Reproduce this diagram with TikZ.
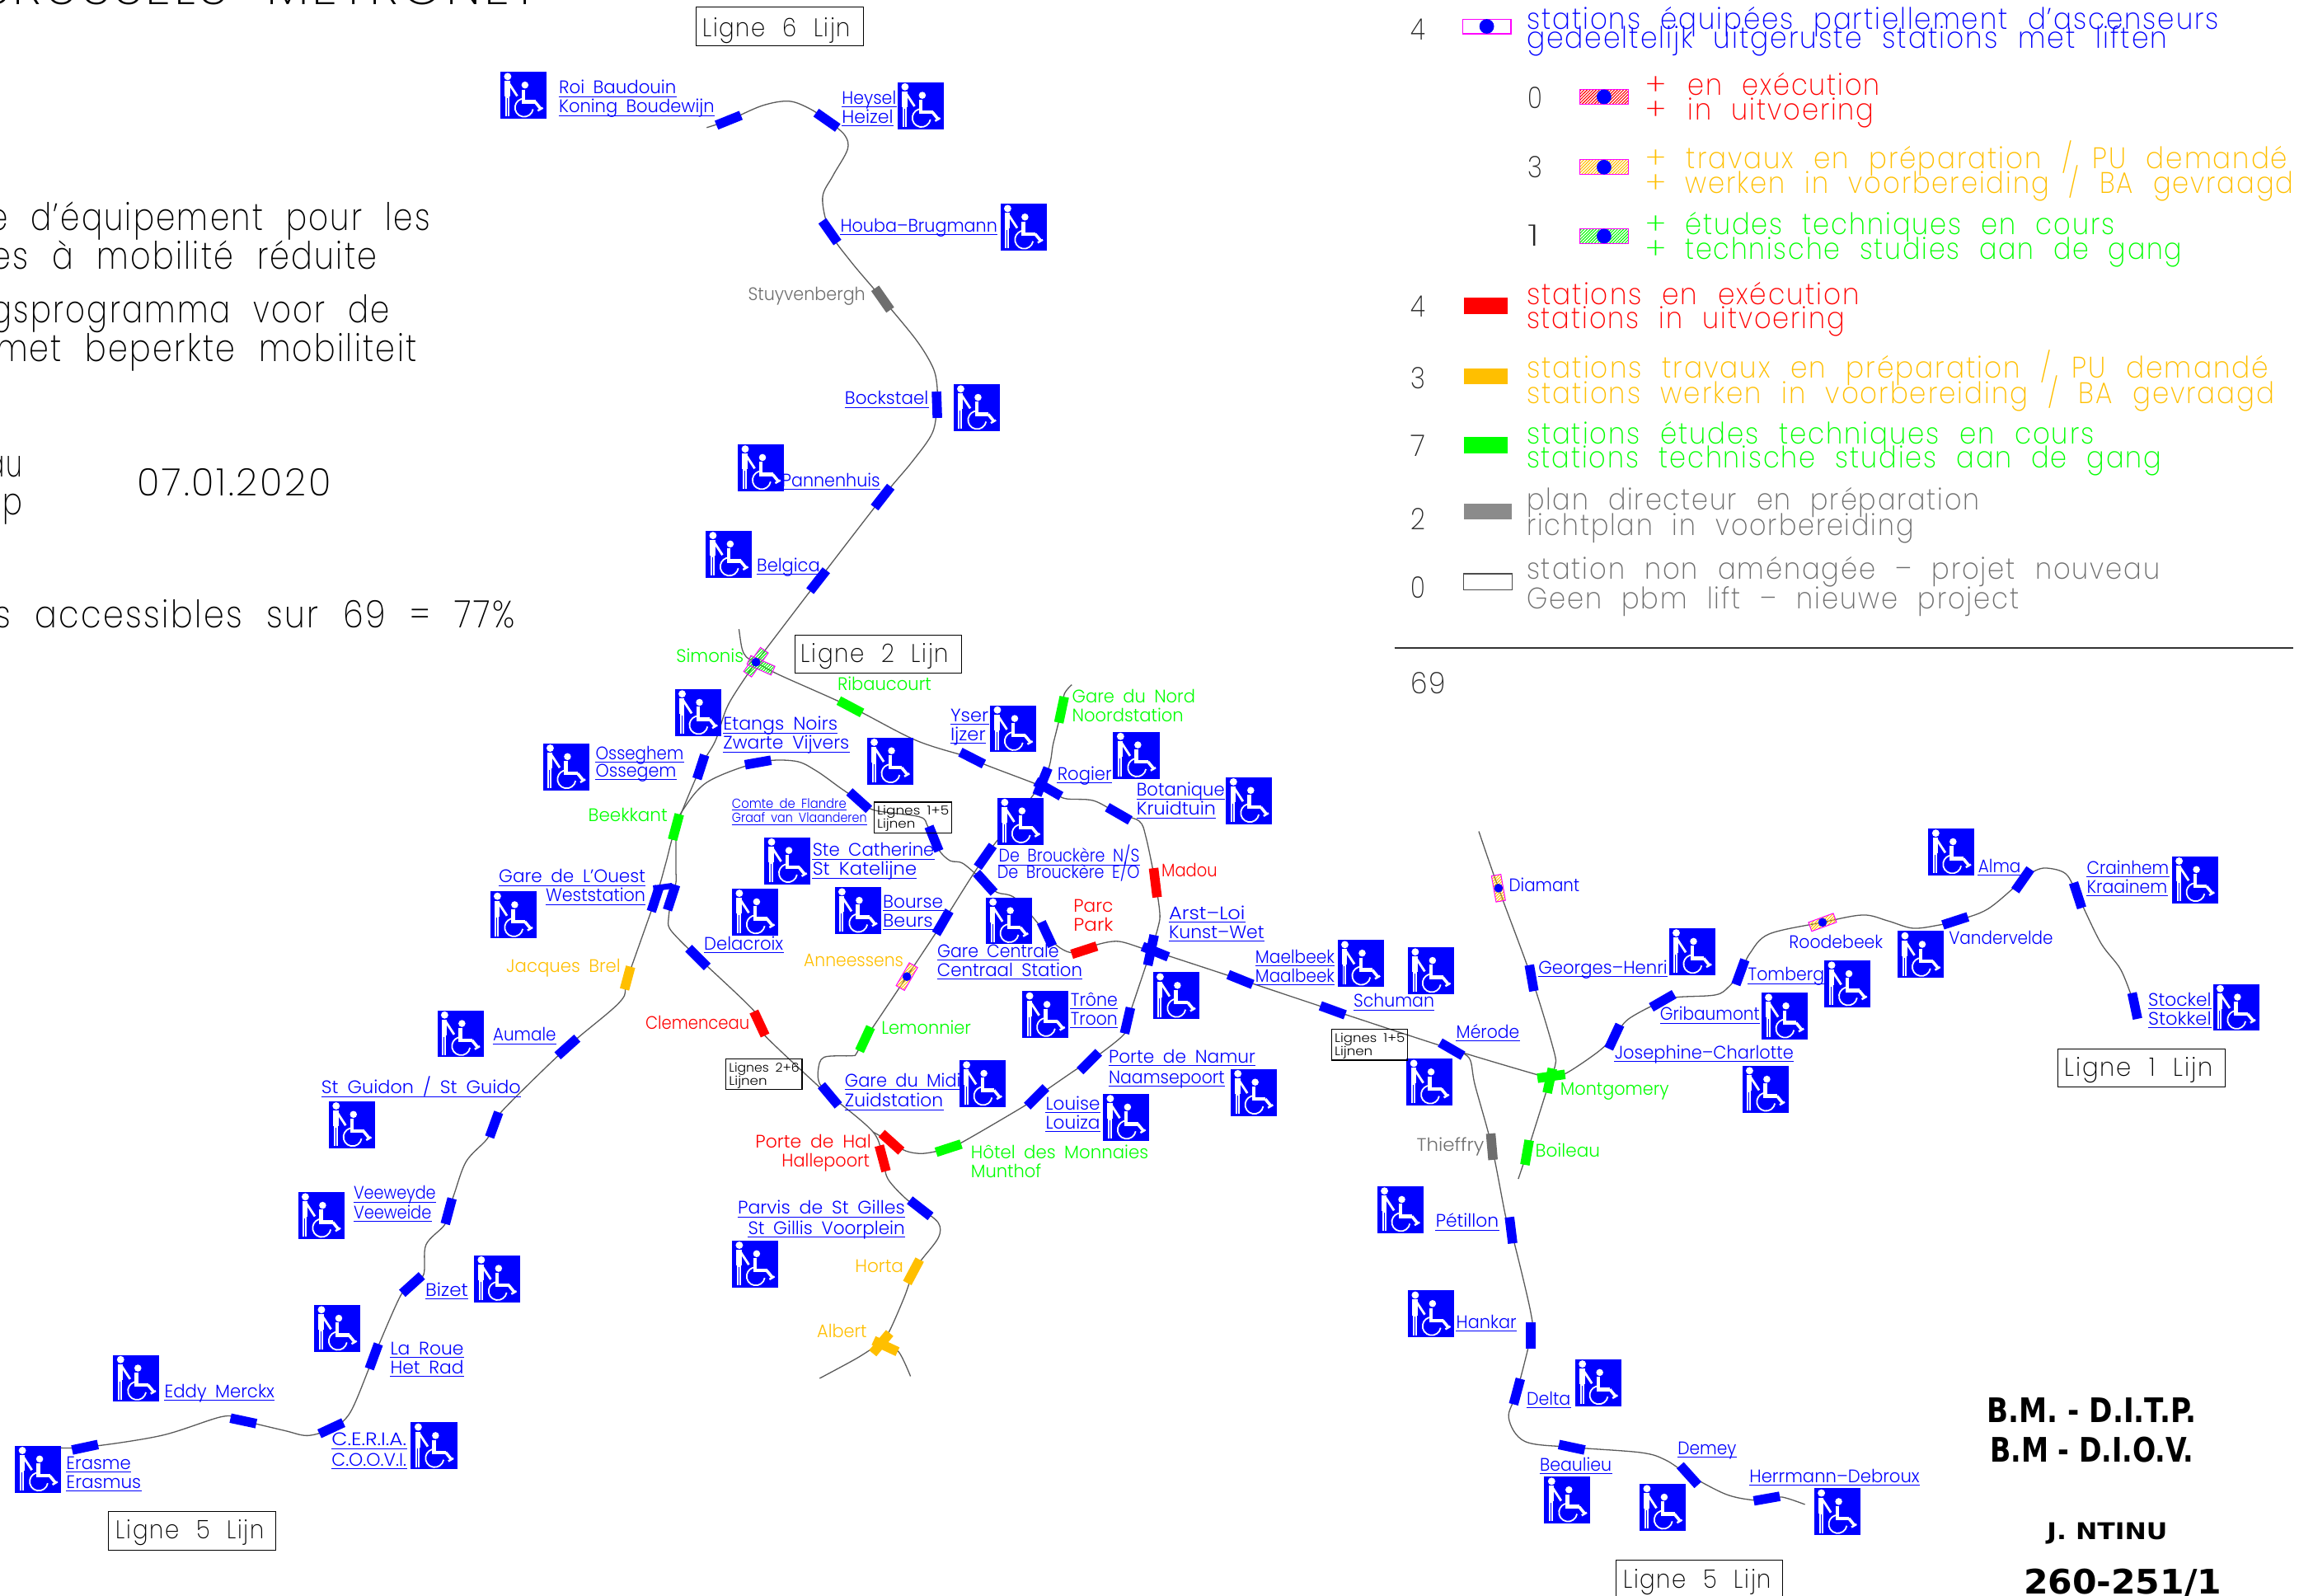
\documentclass[tikz,border=0pt]{standalone}
\usepackage{fontspec}
\usepackage{graphicx}
\usetikzlibrary{patterns,patterns.meta}
\newfontfamily\cad[WordSpace=1.8]{Poppins Light}
\newfontfamily\cadw[WordSpace=2.2,LetterSpace=6]{Poppins ExtraLight}
\newfontfamily\bld{DejaVu Sans Bold}
\definecolor{gold}{HTML}{FFBF00}
\definecolor{mgreen}{HTML}{00FF00}
\definecolor{mgray}{HTML}{6E6E6E}
\definecolor{pink}{HTML}{FF00FF}
\definecolor{lin}{HTML}{5A5A5A}
\newdimen\un \un=.8894pt
\pgfdeclarelayer{bg}\pgfsetlayers{bg,main}
\tikzset{
 lab/.style={anchor=base west,inner sep=0pt,font=\cad\fontsize{11}{13}\selectfont},
 leg/.style={lab,font=\cadw\fontsize{18}{20}\selectfont},
 big/.style={lab,font=\cadw\fontsize{23}{26}\selectfont,text=black},
 smalltx/.style={lab,font=\cad\fontsize{7.5}{9}\selectfont},
 boxtx/.style={lab,font=\cadw\fontsize{15.5}{18}\selectfont,text=black},
 bold/.style={lab,font=\bld\fontsize{20.5}{22}\selectfont,text=black},
 ulin/.style={blue,line width=.45pt},
 metro/.style={lin,line width=.65pt,smooth,tension=.55},
 framebox/.style={draw=black,line width=.55pt},
 stn/.style={rectangle,inner sep=0pt,minimum height=6.5\un},
 hatch/.style={pattern={Lines[angle=45,distance=1.3pt,line width=.55pt]},pattern color=#1},
 pmr/.pic={
  \begin{scope}[shift={(-15.75,-16)}]
   \fill[blue] (0,0) rectangle (31.5,32);
   \fill[white] (5,3.2) circle (2.5);
   \fill[white] (3.0,6.3) rectangle (6.6,17);
   \fill[white] (3.3,17) rectangle (6.1,30.5);
   \draw[white,line width=1.4pt] (5.5,7.3) -- (11.5,16.5);
   \draw[blue,line width=.5pt] (4.7,18) -- (4.7,30.5);
   \fill[white] (16.8,9.0) circle (2.4);
   \draw[white,line width=2.2pt] (15.8,12) -- (15.8,20.5) -- (24,20.5);
   \draw[white,line width=1.8pt] (23.7,20.5) -- (27.8,25.5);
   \draw[white,line width=1.2pt] (25.5,26.5) -- (29,24.5);
   \draw[white,line width=.9pt] (22.3,25.5) arc[start angle=10,end angle=270,radius=6.2];
  \end{scope}}
}
\newcommand\tlab[6][]{\node[lab,#1] (#2) at (#3,#4) {\resizebox{#5\un}{\height}{#6}};}
\newcommand\ulab[5]{\tlab[text=blue]{#1}{#2}{#3}{#4}{#5}\draw[ulin] ([yshift=-1.8\un]#1.base west) -- ([yshift=-1.8\un]#1.base east);}
\newcommand\stat[6][18]{\node[stn,fill=#6,minimum width=#1\un,rotate=#5] (#2) at (#3,#4) {};}
\newcommand\dotstat[5]{\node[stn,draw=pink,line width=.5pt,hatch=#5,minimum width=18\un,rotate=#4] (#1) at (#2,#3) {};
 \node[circle,fill=blue,inner sep=0pt,minimum size=6\un] (#1d) at (#2,#3) {};}
\newcommand\swatch[6]{\node[rectangle,inner sep=0pt,anchor=north west,minimum width=#4\un,minimum height=11\un,#5] (#1) at (#2,#3) {};#6}
\newcommand\wch[2]{\pic at (#1,#2) {pmr};}
\begin{document}
\begin{tikzpicture}[x=.8894pt,y=-.8894pt]
\useasboundingbox (0,0) rectangle (1568,1088);
\begin{pgfonlayer}{bg}\fill[white] (0,0) rectangle (1568,1088);\end{pgfonlayer}

% ---- header
\tlab[big,font=\cadw\fontsize{30}{32}\selectfont]{title}{-14}{3}{381}{BRUSSELS METRONET}
\tlab[big]{h1}{-8}{157}{301}{e d’équipement pour les}
\tlab[big]{h2}{-6}{183.5}{263}{es à mobilité réduite}
\tlab[big]{h3}{-6}{220}{271.6}{gsprogramma voor de}
\tlab[big]{h4}{-3}{246.5}{287}{met beperkte mobiliteit}
\tlab[big]{h5}{-9}{325}{24}{au}
\tlab[big]{h6}{-12}{351}{27}{ep}
\tlab[big]{h7}{93.6}{338}{132}{07.01.2020}
\tlab[big]{h8}{-4}{428}{355}{s accessibles sur 69 = 77\%}

% ---- legend
\tlab[leg,text=black!85]{n1}{962}{27}{10}{4}
\node[rectangle,draw=pink,line width=.6pt,fill=white,minimum width=33\un,minimum height=10\un,inner sep=0pt] (sw1) at (1014,18) {};
\node[circle,fill=blue,inner sep=0pt,minimum size=10\un] (sw1d) at (1014,18) {};
\tlab[leg,text=blue]{l1}{1041}{20}{472}{stations équipées partiellement d’ascenseurs}
\tlab[leg,text=blue]{l2}{1041}{33}{437}{gedeeltelijk uitgeruste stations met liften}
\tlab[leg,text=black!85]{n2}{1042}{74}{10}{0}
\node[rectangle,draw=pink,line width=.6pt,hatch=red,minimum width=33\un,minimum height=10\un,inner sep=0pt] (sw2) at (1094,66) {};
\node[circle,fill=blue,inner sep=0pt,minimum size=10\un] (sw2d) at (1094,66) {};
\tlab[leg,text=red]{p2a}{1122}{65}{14}{+}
\tlab[leg,text=red]{l3}{1151}{65}{131}{en exécution}
\tlab[leg,text=red]{p2b}{1122}{82}{14}{+}
\tlab[leg,text=red]{l4}{1151}{82}{127}{in uitvoering}
\tlab[leg,text=black!85]{n3}{1042}{121}{10}{3}
\node[rectangle,draw=pink,line width=.6pt,hatch=gold,minimum width=33\un,minimum height=10\un,inner sep=0pt] (sw3) at (1094,114) {};
\node[circle,fill=blue,inner sep=0pt,minimum size=10\un] (sw3d) at (1094,114) {};
\tlab[leg,text=gold]{p3a}{1122}{115}{14}{+}
\tlab[leg,text=gold]{l5}{1150}{115}{410}{travaux en préparation / PU demandé}
\tlab[leg,text=gold]{p3b}{1122}{132}{14}{+}
\tlab[leg,text=gold]{l6}{1149}{132}{415}{werken in voorbereiding / BA gevraagd}
\tlab[leg,text=black!85]{n4}{1042}{168}{8}{1}
\node[rectangle,draw=pink,line width=.6pt,hatch=mgreen,minimum width=33\un,minimum height=10\un,inner sep=0pt] (sw4) at (1094,161) {};
\node[circle,fill=blue,inner sep=0pt,minimum size=10\un] (sw4d) at (1094,161) {};
\tlab[leg,text=mgreen]{p4a}{1122}{160}{14}{+}
\tlab[leg,text=mgreen]{l7}{1149}{160}{293}{études techniques en cours}
\tlab[leg,text=mgreen]{p4b}{1122}{177}{14}{+}
\tlab[leg,text=mgreen]{l8}{1149}{177}{339}{technische studies aan de gang}
\tlab[leg,text=black!85]{n5}{962}{216}{10}{4}
\swatch{sw5}{998}{203}{30}{fill=red}{}
\tlab[leg,text=red]{l9}{1041}{208}{227}{stations en exécution}
\tlab[leg,text=red]{l10}{1041}{224}{217}{stations in uitvoering}
\tlab[leg,text=black!85]{n6}{962}{265}{10}{3}
\swatch{sw6}{998}{251}{30}{fill=gold}{}
\tlab[leg,text=gold]{l11}{1041}{258}{506}{stations travaux en préparation / PU demandé}
\tlab[leg,text=gold]{l12}{1041}{275}{510}{stations werken in voorbereiding / BA gevraagd}
\tlab[leg,text=black!85]{n7}{962}{311}{10}{7}
\swatch{sw7}{998}{298}{30}{fill=mgreen}{}
\tlab[leg,text=mgreen]{l13}{1041}{303}{387}{stations études techniques en cours}
\tlab[leg,text=mgreen]{l14}{1041}{319}{433}{stations technische studies aan de gang}
\tlab[leg,text=black!85]{n8}{962}{361}{10}{2}
\swatch{sw8}{998}{343}{33}{fill=mgray!80}{}
\tlab[leg,text=mgray]{l15}{1041}{348}{309}{plan directeur en préparation}
\tlab[leg,text=mgray]{l16}{1041}{365}{264}{richtplan in voorbereiding}
\tlab[leg,text=black!85]{n9}{962}{408}{10}{0}
\swatch{sw9}{998}{391}{33}{draw=black!70,line width=.6pt,fill=white}{}
\tlab[leg,text=mgray]{l17}{1041}{395}{432}{station non aménagée – projet nouveau}
\tlab[leg,text=mgray]{l18}{1041}{415}{336}{Geen pbm lift – nieuwe project}
\coordinate (ra) at (951,442); \coordinate (rb) at (1564,442);
\draw[black!80,line width=.7pt] (ra) -- (rb);
\tlab[leg,text=black!85]{n10}{962}{473}{24}{69}

% ---- stations
\stat{roi}{497}{82}{22}{blue}
\stat{hey}{564}{82}{-35}{blue}
\stat{hou}{566}{158}{-55}{blue}
\stat{stu}{602}{204}{-55}{mgray}
\stat{boc}{639}{276}{-88}{blue}
\stat{pan}{602}{339}{52}{blue}
\stat{bel}{558}{396}{52}{blue}
\stat{rib}{580}{482}{-28}{mgreen}
\stat{yse}{663}{517}{-27}{blue}
\stat[20]{rogs}{711}{533}{68}{blue}
\stat[20]{roge}{715}{538}{-30}{blue}
\stat{bot}{763}{555}{-30}{blue}
\stat[20]{mad}{788}{602}{-83}{red}
\stat[21]{arts}{785}{648}{78}{blue}
\stat[19]{arte}{788}{649}{-22}{blue}
\stat{tro}{769}{696}{77}{blue}
\stat{nam}{743}{724}{45}{blue}
\stat{lou}{707}{748}{45}{blue}
\stat{hot}{647}{783}{18}{mgreen}
\stat{halA}{608}{779}{-42}{red}
\stat{halB}{602}{790}{-75}{red}
\stat{midi}{566}{747}{-50}{blue}
\stat{cle}{518}{698}{-65}{red}
\stat{dela}{476}{653}{-45}{blue}
\stat[17]{etn}{478}{523}{72}{blue}
\stat{bee}{461}{564}{75}{mgreen}
\stat{gdoL}{447}{613}{72}{blue}
\stat{gdoR}{458}{612}{72}{blue}
\node[stn,fill=blue,minimum width=13\un,minimum height=4\un,rotate=8] (gdoB) at (452,605) {};
\stat[16]{jbr}{428}{667}{75}{gold}
\stat{aum}{387}{714}{42}{blue}
\stat{gui}{337}{767}{70}{blue}
\stat{vee}{306}{826}{75}{blue}
\stat{biz}{281}{876}{42}{blue}
\stat{rou}{255}{925}{70}{blue}
\stat{cer}{226}{974}{25}{blue}
\stat{edd}{166}{969}{-12}{blue}
\stat{era}{58}{987}{12}{blue}
\stat{com}{517}{520}{10}{blue}
\stat{fla}{586}{546}{-42}{blue}
\stat{ste}{637}{572}{-68}{blue}
\stat{dbN}{672}{584}{55}{blue}
\stat{dbE}{672}{602}{-48}{blue}
\stat{cen}{714}{637}{-65}{blue}
\stat{par}{739.5}{648}{18}{red}
\stat{mae}{846}{668}{-22}{blue}
\stat{sch}{909}{689}{-20}{blue}
\stat{mer}{990}{715.5}{-30}{blue}
\stat{gnd}{724}{484}{78}{mgreen}
\stat{bou}{643}{629}{60}{blue}
\stat{lem}{590}{708.6}{65}{mgreen}
\stat{par2}{627.6}{824}{-38}{blue}
\stat{hor}{623}{867}{62}{gold}
\stat{albA}{601}{916}{50}{gold}
\stat{albB}{604}{918}{-25}{gold}
\stat{geo}{1044.6}{667}{-80}{blue}
\stat[17]{monV}{1057}{737}{78}{mgreen}
\stat[19]{monH}{1058}{734}{8}{mgreen}
\stat[17]{boi}{1041.5}{786}{80}{mgreen}
\stat{thi}{1017.5}{782}{-85}{mgray}
\stat{pet}{1030.6}{839}{-83}{blue}
\stat{han}{1044}{911}{-90}{blue}
\stat{del}{1034.6}{949}{75}{blue}
\stat{bea}{1072}{987}{-12}{blue}
\stat{dem}{1152}{1006}{-48}{blue}
\stat{her}{1205}{1022}{10}{blue}
\stat{jos}{1101}{707}{65}{blue}
\stat{gri}{1134}{682.5}{30}{blue}
\stat{tom}{1187}{663}{70}{blue}
\stat{van}{1333.6}{628}{18}{blue}
\stat{alm}{1379.6}{600}{55}{blue}
\stat{cra}{1417}{610.6}{-72}{blue}
\stat{sto}{1456}{686}{-78}{blue}

% Simonis
\node[stn,draw=pink,line width=.5pt,hatch=mgreen,minimum width=20\un,rotate=55] (simA) at (515.6,451.6) {};
\node[stn,draw=pink,line width=.5pt,hatch=mgreen,minimum width=18\un,rotate=-24] (simB) at (519,453.7) {};
\node[circle,fill=blue,inner sep=0pt,minimum size=6\un] (simd) at (515.6,451.6) {};
\dotstat{ann}{618.5}{666}{60}{gold}
\dotstat{dia}{1022}{605.7}{-80}{gold}
\dotstat{roo}{1243}{629}{20}{gold}

% ---- lines
\coordinate (e1) at (482,87);
\coordinate (e2) at (504,429);
\coordinate (e3) at (731,467);
\coordinate (e4) at (559,940);
\coordinate (e5) at (621,938.6);
\coordinate (e6) at (1008.6,567);
\coordinate (e7) at (1035.5,804);
\coordinate (e8) at (1231,1026);
\coordinate (e9) at (35.5,987);
\begin{pgfonlayer}{bg}
\draw[metro] plot coordinates {(e1) (roi.center) (520,72) (538,69) (552,74) (hey.center) (576,92) (578,102) (568,120) (561,135) (hou.center) (580,178) (stu.center) (625,232) (636,250) (639,262) (boc.center) (636,295) (622,315) (pan.center) (bel.center) (simd.center)};
\draw[metro] plot coordinates {(e2) (506,442) (509,448) (simd.center) (531,460) (rib.center) (625,505) (yse.center) (672,521.5) (roge.center) (726,544.5) (745.8,546) (bot.center) (777,560) (781.6,571) (mad.center) (791,622.6) (790,631.6) (arts.center) (tro.center) (766,706) (nam.center) (733,730) (lou.center) (699,754) (658,778) (hot.center) (630,786.6) (618,785) (halA.center) (595.5,772)};
\draw[metro] plot coordinates {(simd.center) (497,480) (488,505) (etn.center) (bee.center) (454,589) (gdoL.center) (jbr.center) (423,683) (aum.center) (344,756) (gui.center) (332,777) (318,792) (310,813.6) (vee.center) (303,835.6) (290.5,849) (289,869) (biz.center) (273,884) (rou.center) (239,963) (cer.center) (210,979) (194,975.6) (edd.center) (152,966) (110,979) (era.center) (e9)};
\draw[metro] plot coordinates {(bee.center) (461,592.5) (461,602) (gdoR.center) (456,626) (456.6,633) (465,642.6) (dela.center) (513,688) (cle.center) (522,706.6) (559.6,742) (midi.center) (595.5,772) (halB.center) (605.6,804) (618,817.6) (par2.center) (640,834) (640,844) (628.6,859) (hor.center) (617,884) (607,907) (albA.center)};
\draw[metro] plot coordinates {(bee.center) (464.7,554) (482,533.6) (com.center) (542,519) (556.6,525.6) (573.5,537.6) (fla.center) (596.6,552.6) (627,557) (632.5,563) (ste.center) (641,580.6) (648,587) (657,589) (dbE.center) (680,608.6) (693,613) (cen.center) (721,645) (730,649.6) (par.center) (749,644) (763,642) (780,647) (arte.center) (mae.center) (sch.center) (mer.center) (1048.6,733)};
\draw[metro] plot coordinates {(midi.center) (559,739) (558,730) (562,721) (581,720) (584,718.6) (lem.center) (ann.center) (bou.center) (dbN.center) (rogs.center) (718.6,506) (gnd.center) (726,473) (e3)};
\draw[metro] plot coordinates {(e4) (584,926.5) (albA.center) (albB.center) (613,922) (e5)};
\draw[metro] plot coordinates {(e6) (dia.center) (geo.center) (1059.6,716) (1060.6,727) (monV.center) (boi.center) (e7)};
\draw[metro] plot coordinates {(mer.center) (1002,721.5) (1006,740) (thi.center) (1027,830) (pet.center) (1044,895) (han.center) (del.center) (1029,967) (1040,983) (bea.center) (1119,990.6) (1136,995.7) (dem.center) (1177,1019) (1195.6,1023) (her.center) (1215.6,1021) (e8)};
\draw[metro] plot coordinates {(monH.center) (1068,732) (1089,718) (jos.center) (1110.6,695) (gri.center) (1144.6,680) (1170,678.5) (1179,673) (tom.center) (1193.6,650) (1206.5,637) (roo.center) (1270.6,624) (1287.6,628) (1304.5,633) (1321.6,631) (van.center) (1355.6,620) (alm.center) (1387.6,594) (1396,592) (1409,596) (cra.center) (1432.6,642.7) (1446.6,661.6) (sto.center)};
\end{pgfonlayer}

% ---- wheelchair icons
\wch{357}{65}\wch{628}{72}\wch{698}{155}\wch{666}{278}\wch{519}{319}\wch{497}{378}
\wch{476}{486}\wch{386}{523}\wch{691}{497}\wch{775}{515}\wch{607}{519}\wch{852}{546}
\wch{696}{560}\wch{537}{587}\wch{515}{622}\wch{585}{621}\wch{688}{628}\wch{350}{624}
\wch{928}{657}\wch{976}{662}\wch{802}{679}\wch{713}{692}\wch{314}{705}\wch{670}{739}
\wch{855}{745}\wch{768}{762}\wch{240}{767}\wch{219}{829}\wch{515}{862}\wch{339}{872}
\wch{230}{906}\wch{93}{940}\wch{296}{986}\wch{26}{1002}
\wch{1331}{581}\wch{1497}{600}\wch{1154}{649}\wch{1260}{671}\wch{1217}{693}\wch{1310}{651}
\wch{1204}{743}\wch{1525}{687}\wch{975}{738}\wch{955}{825}\wch{976}{896}\wch{1090}{943}
\wch{1069}{1023}\wch{1134}{1028}\wch{1253}{1031}

% ---- labels
\ulab{a1}{381}{64}{80}{Roi Baudouin}
\ulab{a2}{381}{77}{106}{Koning Boudewijn}
\ulab{a3}{574}{71}{37}{Heysel}
\ulab{a4}{574}{84}{35}{Heizel}
\ulab{a5}{573}{158}{107}{Houba–Brugmann}
\tlab[text=mgray]{a6}{510}{205}{80}{Stuyvenbergh}
\ulab{a7}{576}{276}{57}{Bockstael}
\ulab{a8}{533}{332}{67}{Pannenhuis}
\ulab{a9}{516}{390}{43}{Belgica}
\tlab[text=mgreen]{a10}{461}{452}{46}{Simonis}
\tlab[text=mgreen]{a11}{571}{471}{64}{Ribaucourt}
\ulab{a12}{493}{498}{78}{Etangs Noirs}
\ulab{a13}{493}{511}{86}{Zwarte Vijvers}
\ulab{a14}{406}{518}{60}{Osseghem}
\ulab{a15}{406}{530}{55}{Ossegem}
\ulab{a16}{648}{492}{26}{Yser}
\ulab{a17}{648}{505}{24}{Ijzer}
\tlab[text=mgreen]{a18}{731}{479}{84}{Gare du Nord}
\tlab[text=mgreen]{a19}{731}{492}{76}{Noordstation}
\ulab{a20}{721}{532}{37}{Rogier}
\ulab{a21}{775}{543}{60}{Botanique}
\ulab{a22}{775}{556}{54}{Kruidtuin}
\tlab[lab,font=\cad\fontsize{8}{9}\selectfont,text=blue]{a23}{499}{551}{78}{Comte de Flandre}
\draw[ulin] ([yshift=-1.5\un]a23.base west) -- ([yshift=-1.5\un]a23.base east);
\tlab[lab,font=\cad\fontsize{8}{9}\selectfont,text=blue]{a24}{499}{561}{92}{Graaf van Vlaanderen}
\draw[ulin] ([yshift=-1.5\un]a24.base west) -- ([yshift=-1.5\un]a24.base east);
\ulab{a25}{554}{584}{83}{Ste Catherine}
\ulab{a26}{554}{597}{71}{St Katelijne}
\ulab{a27}{681}{588}{96}{De Brouckère N/S}
\tlab[text=blue]{a28}{680}{599}{97}{De Brouckère E/O}
\tlab[text=red]{a29}{792}{598}{38}{Madou}
\tlab[text=mgreen]{a30}{401}{560}{54}{Beekkant}
\ulab{a31}{340}{602}{100}{Gare de L’Ouest}
\ulab{a32}{372}{615}{68}{Weststation}
\tlab[text=red]{a33}{732}{622}{27}{Parc}
\tlab[text=red]{a34}{732}{635}{27}{Park}
\ulab{a35}{602}{619}{41}{Bourse}
\ulab{a36}{602}{632}{34}{Beurs}
\ulab{a37}{480}{648}{54}{Delacroix}
\tlab[text=gold]{a38}{548}{659}{68}{Anneessens}
\ulab{a39}{639}{653}{83}{Gare Centrale}
\ulab{a40}{639}{666}{99}{Centraal Station}
\ulab{a41}{797}{627}{52}{Arst–Loi}
\ulab{a42}{797}{640}{65}{Kunst–Wet}
\ulab{a43}{856}{657}{54}{Maelbeek}
\ulab{a44}{856}{670}{54}{Maalbeek}
\ulab{a45}{923}{687}{55}{Schuman}
\tlab[text=gold]{a46}{345}{663}{78}{Jacques Brel}
\tlab[text=red]{a47}{440}{702}{71}{Clemenceau}
\ulab{a48}{730}{686}{32}{Trône}
\ulab{a49}{730}{699}{32}{Troon}
\tlab[text=mgreen]{a50}{601}{705}{61}{Lemonnier}
\ulab{a51}{336}{710}{43}{Aumale}
\ulab{a52}{219}{746}{136}{St Guidon / St Guido}
\ulab{a53}{576}{741}{79}{Gare du Midi}
\ulab{a54}{576}{755}{67}{Zuidstation}
\ulab{a55}{756}{725}{100}{Porte de Namur}
\ulab{a56}{756}{739}{79}{Naamsepoort}
\ulab{a57}{713}{757}{37}{Louise}
\ulab{a58}{713}{770}{37}{Louiza}
\tlab[text=red]{a59}{515}{783}{79}{Porte de Hal}
\tlab[text=red]{a60}{533}{796}{60}{Hallepoort}
\tlab[text=mgreen]{a61}{662}{790}{121}{Hôtel des Monnaies}
\tlab[text=mgreen]{a62}{662}{803}{48}{Munthof}
\ulab{a63}{503}{828}{114}{Parvis de St Gilles}
\ulab{a64}{510}{842}{107}{St Gillis Voorplein}
\ulab{a65}{241}{818}{56}{Veeweyde}
\ulab{a66}{241}{831}{53}{Veeweide}
\ulab{a67}{290}{884}{29}{Bizet}
\tlab[text=gold]{a68}{583}{868}{33}{Horta}
\tlab[text=gold]{a69}{557}{912}{34}{Albert}
\ulab{a70}{266}{924}{50}{La Roue}
\ulab{a71}{266}{937}{50}{Het Rad}
\ulab{a72}{112}{953}{75}{Eddy Merckx}
\ulab{a73}{226}{986}{51}{C.E.R.I.A.}
\ulab{a74}{226}{1000}{51}{C.O.O.V.I.}
\ulab{a75}{45}{1002}{44}{Erasme}
\ulab{a76}{45}{1015}{51}{Erasmus}
\tlab[text=blue]{a77}{1029}{608}{48}{Diamant}
\ulab{a78}{1049}{664}{88}{Georges–Henri}
\tlab[text=blue]{a79}{1220}{647}{64}{Roodebeek}
\ulab{a80}{1192}{669}{52}{Tomberg}
\ulab{a81}{1132}{696}{68}{Gribaumont}
\ulab{a82}{1101}{722}{122}{Josephine–Charlotte}
\ulab{a83}{1349}{595}{29}{Alma}
\ulab{a84}{1423}{596}{56}{Crainhem}
\ulab{a85}{1423}{609}{55}{Kraainem}
\tlab[text=blue]{a86}{1329}{644}{71}{Vandervelde}
\ulab{a87}{1465}{686}{43}{Stockel}
\ulab{a88}{1465}{699}{43}{Stokkel}
\ulab{a89}{993}{708}{43}{Mérode}
\tlab[text=mgreen]{a90}{1064}{747}{74}{Montgomery}
\tlab[text=mgreen]{a91}{1047}{789}{44}{Boileau}
\tlab[text=mgray]{a92}{966}{785}{46}{Thieffry}
\ulab{a93}{979}{837}{43}{Pétillon}
\ulab{a94}{993}{906}{41}{Hankar}
\ulab{a95}{1041}{958}{30}{Delta}
\ulab{a96}{1050}{1003}{49}{Beaulieu}
\ulab{a97}{1144}{992}{40}{Demey}
\ulab{a98}{1193}{1011}{116}{Herrmann–Debroux}

% ---- line boxes
\node[framebox,rectangle,minimum width=114\un,minimum height=26\un,inner sep=0pt] (b1) at (532,18) {};
\tlab[boxtx]{b1t}{479}{25}{101}{Ligne 6 Lijn}
\node[framebox,rectangle,minimum width=114\un,minimum height=26\un,inner sep=0pt] (b2) at (599,446) {};
\tlab[boxtx]{b2t}{546}{451.5}{101}{Ligne 2 Lijn}
\node[framebox,rectangle,minimum width=114\un,minimum height=26\un,inner sep=0pt] (b3) at (131,1044) {};
\tlab[boxtx]{b3t}{79}{1049.5}{101}{Ligne 5 Lijn}
\node[framebox,rectangle,minimum width=114\un,minimum height=26\un,inner sep=0pt] (b4) at (1159,1077) {};
\tlab[boxtx]{b4t}{1107}{1083}{101}{Ligne 5 Lijn}
\node[framebox,rectangle,minimum width=114\un,minimum height=26\un,inner sep=0pt] (b5) at (1460.5,728.5) {};
\tlab[boxtx]{b5t}{1408}{734}{101}{Ligne 1 Lijn}
\node[framebox,rectangle,minimum width=53\un,minimum height=21\un,inner sep=0pt] (s1) at (622.5,557.5) {};
\tlab[smalltx,text=black]{s1a}{598}{556}{49}{Lignes 1+5}
\tlab[smalltx,text=black]{s1b}{598}{565}{26}{Lijnen}
\node[framebox,rectangle,minimum width=52\un,minimum height=21\un,inner sep=0pt] (s2) at (521,732.5) {};
\tlab[smalltx,text=black]{s2a}{497}{731}{48}{Lignes 2+6}
\tlab[smalltx,text=black]{s2b}{497}{740}{26}{Lijnen}
\node[framebox,rectangle,minimum width=52\un,minimum height=21\un,inner sep=0pt] (s3) at (934,712.5) {};
\tlab[smalltx,text=black]{s3a}{910}{711}{48}{Lignes 1+5}
\tlab[smalltx,text=black]{s3b}{910}{720}{26}{Lijnen}

% ---- credits
\tlab[bold]{c1}{1355}{970}{143}{B.M. - D.I.T.P.}
\tlab[bold]{c2}{1357}{997}{139}{B.M - D.I.O.V.}
\tlab[bold,font=\bld\fontsize{14}{16}\selectfont]{c3}{1396}{1050}{82}{J. NTINU}
\tlab[bold]{c4}{1380}{1087}{135}{260-251/1}
\end{tikzpicture}
\end{document}
